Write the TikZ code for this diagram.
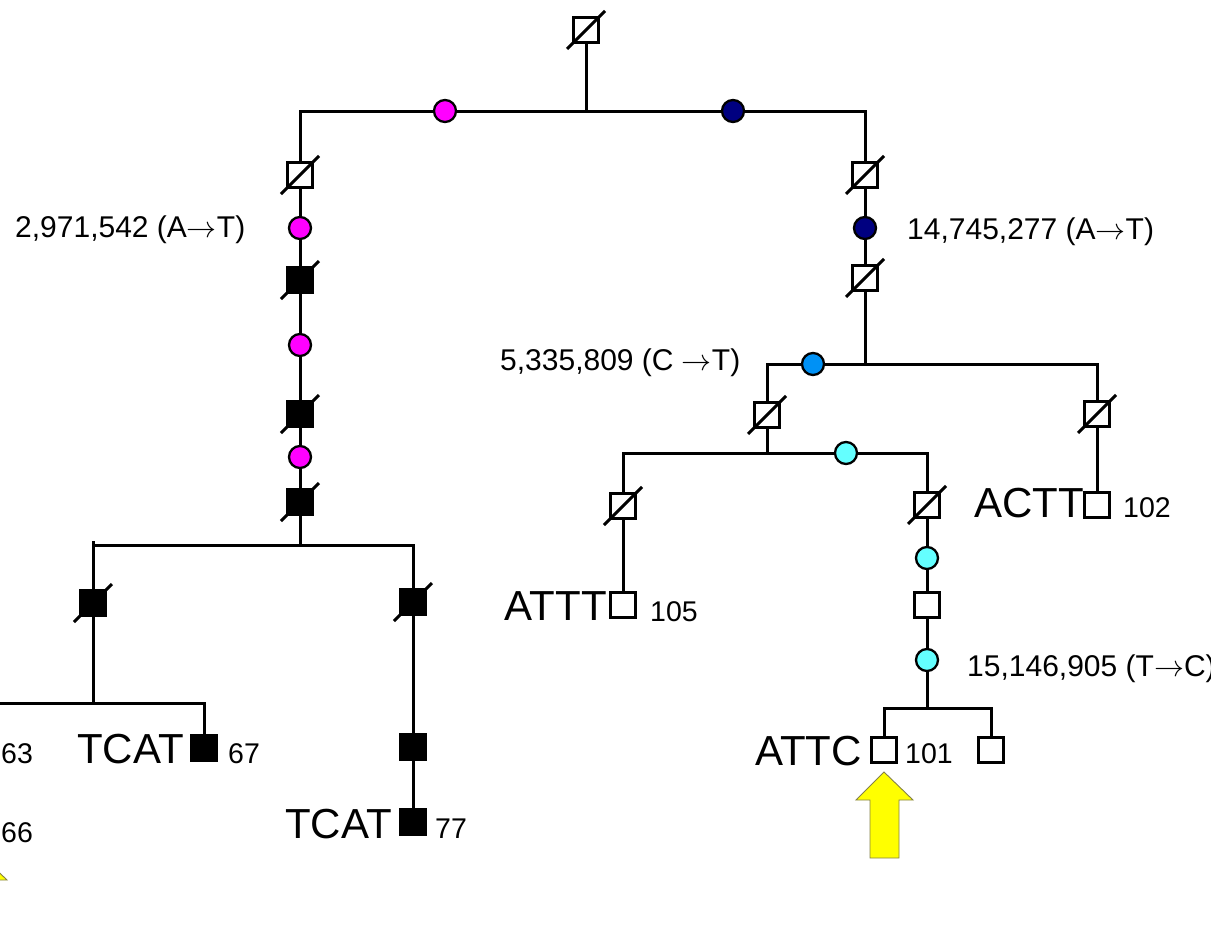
\RequirePackage{fix-cm}
\documentclass[tikz,border=0pt]{standalone}
\usepackage{fontspec}
\setmainfont{Liberation Sans}
\definecolor{mymag}{RGB}{255,0,255}
\definecolor{mynavy}{RGB}{0,0,128}
\definecolor{myblue}{RGB}{0,145,245}
\definecolor{mycyan}{RGB}{100,255,255}
\definecolor{myyellow}{RGB}{255,255,0}
\newcommand\sqslash[1]{\draw[slashln] ([shift={(-19,19)}]#1.center) -- ([shift={(19,-19)}]#1.center);}
\newcommand\myarr{$\rightarrow$}
\begin{document}
\begin{tikzpicture}[x=1pt,y=-1pt,
  ln/.style={line width=3pt},
  slashln/.style={line width=3pt},
  sq/.style={draw, fill=white, line width=2.8pt, minimum size=25.5pt, inner sep=0pt},
  bsq/.style={sq, fill=black},
  dot/.style={circle, draw, line width=2.3pt, minimum size=22pt, inner sep=0pt},
  mag/.style={dot, fill=mymag},
  nav/.style={dot, fill=mynavy},
  blu/.style={dot, fill=myblue},
  cya/.style={dot, fill=mycyan},
  lab/.style={font=\fontsize{30}{36}\selectfont, inner sep=0pt},
  num/.style={font=\fontsize{28.5}{34}\selectfont, inner sep=0pt},
  big/.style={font=\fontsize{42}{50}\selectfont, inner sep=0pt},
  yarrow/.style={fill=myyellow, draw=black!55!yellow, line width=0.9pt, line join=miter}
]
\useasboundingbox (0,0) rectangle (1211,937);
\clip (0,0) rectangle (1211,937);
\fill[white] (0,0) rectangle (1211,937);

% ---- top
\node[sq] (T0) at (586,30) {};
\coordinate (j0) at (586,111);
\coordinate (cL) at (300,111);
\coordinate (cR) at (865,111);
\node[mag] (m0) at (445,111) {};
\node[nav] (n0) at (733,111) {};

% ---- left branch
\node[sq] (L1) at (300,175) {};
\node[mag] (L2) at (300,228) {};
\node[bsq] (L3) at (300,280) {};
\node[mag] (L4) at (300,345) {};
\node[bsq] (L5) at (300,414) {};
\node[mag] (L6) at (300,457) {};
\node[bsq] (L7) at (300,502) {};
\coordinate (jL) at (300,545);
\coordinate (aLL) at (93,545);
\coordinate (aLLt) at (93,541);
\coordinate (aLR) at (413,545);
\node[bsq] (LL1) at (93,603) {};
\coordinate (jLL) at (93,703);
\coordinate (eLL) at (-10,703);
\coordinate (aLLR) at (204,703);
\node[bsq] (LL2) at (204,748) {};
\node[bsq] (LR1) at (413,602) {};
\node[bsq] (LR2) at (413,747) {};
\node[bsq] (LR3) at (413,822) {};

% ---- right branch
\node[sq] (R1) at (865,175) {};
\node[nav] (R2) at (865,228) {};
\node[sq] (R3) at (865,278) {};
\coordinate (jR) at (865,364);
\coordinate (aRL) at (767,364);
\coordinate (aRR) at (1097,364);
\node[blu] (B1) at (813,364) {};
\node[sq] (RL1) at (767,415) {};
\coordinate (jRL) at (767,453);
\coordinate (aRLL) at (623,453);
\coordinate (aRLR) at (927,453);
\node[cya] (C1) at (846,453) {};
\node[sq] (RLL1) at (623,506) {};
\node[sq] (RLL2) at (623,605) {};
\node[sq] (RLR1) at (927,505) {};
\node[cya] (C2) at (927,558) {};
\node[sq] (RLR2) at (927,605) {};
\node[cya] (C3) at (927,660) {};
\coordinate (jRLR) at (927,708);
\coordinate (aX) at (884,708);
\coordinate (aY) at (991,708);
\node[sq] (X) at (884,750) {};
\node[sq] (Y) at (991,750) {};
\node[sq] (RR1) at (1097,414) {};
\node[sq] (RR2) at (1097,505) {};

% ---- connectors
\draw[ln] (T0) -- (j0);
\draw[ln] (m0) -- (n0);
\draw[ln] (m0) -- (cL) -- (L1);
\draw[ln] (n0) -- (cR) -- (R1);
\draw[ln] (L1) -- (L2);
\draw[ln] (L2) -- (L3);
\draw[ln] (L3) -- (L4);
\draw[ln] (L4) -- (L5);
\draw[ln] (L5) -- (L6);
\draw[ln] (L6) -- (L7);
\draw[ln] (L7) -- (jL);
\draw[ln] (aLLt) -- (LL1);
\draw[ln] (aLL) -- (aLR) -- (LR1);
\draw[ln] (LL1) -- (jLL);
\draw[ln] (eLL) -- (aLLR) -- (LL2);
\draw[ln] (LR1) -- (LR2);
\draw[ln] (LR2) -- (LR3);

\draw[ln] (R1) -- (R2);
\draw[ln] (R2) -- (R3);
\draw[ln] (R3) -- (jR);
\draw[ln] (B1) -- (aRR) -- (RR1);
\draw[ln] (B1) -- (aRL) -- (RL1);
\draw[ln] (RL1) -- (jRL);
\draw[ln] (C1) -- (aRLL) -- (RLL1);
\draw[ln] (C1) -- (aRLR) -- (RLR1);
\draw[ln] (RLL1) -- (RLL2);
\draw[ln] (RLR1) -- (C2);
\draw[ln] (C2) -- (RLR2);
\draw[ln] (RLR2) -- (C3);
\draw[ln] (C3) -- (jRLR);
\draw[ln] (X) -- (aX) -- (aY) -- (Y);
\draw[ln] (RR1) -- (RR2);

% ---- slashes
\sqslash{T0}
\sqslash{L1}
\sqslash{L3}
\sqslash{L5}
\sqslash{L7}
\sqslash{LL1}
\sqslash{LR1}
\sqslash{R1}
\sqslash{R3}
\sqslash{RL1}
\sqslash{RLL1}
\sqslash{RLR1}
\sqslash{RR1}

% ---- labels
\node[lab, anchor=base west] (t1) at (15,237) {2,971,542 (A\myarr T)};
\node[lab, anchor=base west] (t2) at (907,239) {14,745,277 (A\myarr T)};
\node[lab, anchor=base west] (t3) at (500,370) {5,335,809 (C \myarr T)};
\node[lab, anchor=base west] (t4) at (967,676) {15,146,905 (T\myarr C)};

\node[big, anchor=base east] (g1) at (184,763) {TCAT};
\node[num, anchor=base west] (n67) at (228,763) {67};
\node[num, anchor=base west] (n63) at (1,763) {63};
\node[num, anchor=base west] (n66) at (1,842) {66};
\node[big, anchor=base east] (g2) at (392,838) {TCAT};
\node[num, anchor=base west] (n77) at (435,838) {77};
\node[big, anchor=base east] (g3) at (607,620) {ATTT};
\node[num, anchor=base west] (n105) at (650,621) {105};
\node[big, anchor=base east] (g4) at (1084,517) {ACTT};
\node[num, anchor=base west] (n102) at (1123,517) {102};
\node[big, anchor=base east] (g5) at (862,765) {ATTC};
\node[num, anchor=base west] (n101) at (905,763) {101};

% ---- yellow arrows
\draw[yarrow] (884,772) -- (913,800) -- (899,800) -- (899,858) -- (870,858) -- (870,800) -- (856,800) -- cycle;
\draw[yarrow] (-22,852) -- (7,880) -- (-7,880) -- (-7,938) -- (-36,938) -- (-36,880) -- (-50,880) -- cycle;
\end{tikzpicture}
\end{document}
